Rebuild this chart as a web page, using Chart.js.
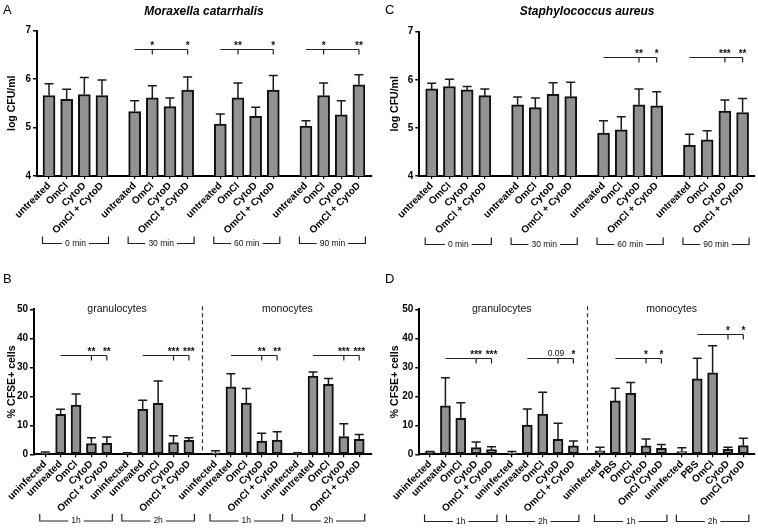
<!DOCTYPE html>
<html>
<head>
<meta charset="utf-8">
<script src="https://cdn.jsdelivr.net/npm/chart.js@4.4.1/dist/chart.umd.min.js"></script>
<style>
html, body { margin: 0; padding: 0; background: #fff; }
#wrap { position: relative; width: 758px; height: 530px; }
canvas { position: absolute; }
</style>
</head>
<body>
<div id="wrap">
  <canvas id="chartA" width="380" height="265" style="left:0;top:0"></canvas>
  <canvas id="chartC" width="376" height="265" style="left:382px;top:0"></canvas>
  <canvas id="chartB" width="380" height="265" style="left:0;top:265px"></canvas>
  <canvas id="chartD" width="376" height="265" style="left:382px;top:265px"></canvas>
</div>
<script>
// Values (mean and upper error)
const cfuTreatments = ['untreated', 'OmCl', 'CytoD', 'OmCl + CytoD'];
const cfuTimes = ['0 min', '30 min', '60 min', '90 min'];
const cfuTicks = [4, 5, 6, 7];

const moraxMean = [5.66, 5.58, 5.68, 5.66, 5.33, 5.61, 5.43, 5.77, 5.07, 5.61, 5.23, 5.77, 5.03, 5.66, 5.26, 5.88];
const moraxErr  = [0.24, 0.21, 0.35, 0.32, 0.22, 0.25, 0.18, 0.27, 0.21, 0.31, 0.19, 0.30, 0.11, 0.26, 0.29, 0.21];
const staphMean = [5.81, 5.86, 5.79, 5.67, 5.48, 5.42, 5.70, 5.65, 4.89, 4.96, 5.48, 5.46, 4.64, 4.75, 5.35, 5.32];
const staphErr  = [0.12, 0.15, 0.07, 0.14, 0.16, 0.20, 0.24, 0.30, 0.26, 0.27, 0.33, 0.29, 0.23, 0.19, 0.23, 0.29];

const cellTreatments = ['uninfected', 'untreated', 'OmCl', 'CytoD', 'OmCl + CytoD'];
const cellTreatmentsPBS = ['uninfected', 'PBS', 'OmCl', 'CytoD', 'OmCl CytoD'];
const cellTimes = ['1h', '2h', '1h', '2h'];
const cellTypes = ['granulocytes', 'monocytes'];
const cellTicks = [0, 10, 20, 30, 40, 50];

const moraxCellMean = [0.4, 13.8, 17.0, 3.7, 3.8, 0.3, 15.5, 17.6, 4.0, 4.8, 0.5, 23.3, 17.7, 4.6, 4.9, 0.3, 27.0, 24.1, 6.1, 5.2];
const moraxCellErr  = [0.4, 1.7, 3.8, 2.0, 2.2, 0.2, 3.1, 7.7, 2.4, 0.9, 0.7, 4.5, 5.0, 2.7, 2.9, 0.2, 1.4, 2.0, 4.4, 1.6];
const staphCellMean = [0.7, 16.7, 12.4, 2.3, 1.6, 0.4, 10.1, 13.9, 5.2, 2.9, 1.2, 18.4, 21.0, 2.9, 2.1, 0.9, 26.0, 28.1, 1.7, 3.0];
const staphCellErr  = [0.3, 9.7, 5.4, 1.9, 1.0, 0.6, 5.5, 7.5, 5.5, 1.7, 1.2, 4.4, 3.8, 2.4, 1.3, 1.4, 7.1, 9.3, 0.7, 2.5];

// significance brackets: group, first bar, marked bars, bracket level (data units), marks
const moraxSig = [
  { group: 1, from: 0, ticks: [1, 3], level: 6.61, marks: ['*', '*'] },
  { group: 2, from: 0, ticks: [1, 3], level: 6.61, marks: ['**', '*'] },
  { group: 3, from: 0, ticks: [1, 3], level: 6.61, marks: ['*', '**'] }
];
const staphSig = [
  { group: 2, from: 0, ticks: [2, 3], level: 6.47, marks: ['**', '*'] },
  { group: 3, from: 0, ticks: [2, 3], level: 6.47, marks: ['***', '**'] }
];
const moraxCellSig = [
  { group: 0, from: 1, ticks: [3, 4], level: 34.1, marks: ['**', '**'] },
  { group: 1, from: 1, ticks: [3, 4], level: 34.1, marks: ['***', '***'] },
  { group: 2, from: 1, ticks: [3, 4], level: 34.1, marks: ['**', '**'] },
  { group: 3, from: 1, ticks: [3, 4], level: 34.1, marks: ['***', '***'] }
];
const staphCellSig = [
  { group: 0, from: 1, ticks: [3, 4], level: 33.2, marks: ['***', '***'] },
  { group: 1, from: 1, ticks: [3, 4], level: 33.2, marks: ['0.09', '*'] },
  { group: 2, from: 1, ticks: [3, 4], level: 33.2, marks: ['*', '*'] },
  { group: 3, from: 1, ticks: [3, 4], level: 41.4, marks: ['*', '*'] }
];

const FONT = '"Liberation Sans", Arial, sans-serif';
Chart.defaults.font.family = FONT;
Chart.defaults.color = '#000';

// x position of each bar: index plus spacing between groups
function barPositions(n, per, gap, splitAt, splitGap) {
  const out = [];
  for (let i = 0; i < n; i++) {
    const g = Math.floor(i / per);
    out.push(i + g * gap + (g >= splitAt ? splitGap : 0));
  }
  return out;
}

function decoPlugin(p, pos) {
  return {
    id: 'deco',
    afterDatasetsDraw(chart) {
      const ctx = chart.ctx, ys = chart.scales.y;
      const bars = chart.getDatasetMeta(0).data;
      ctx.save();
      ctx.strokeStyle = '#1a1a1a';
      ctx.lineWidth = 1.5;
      bars.forEach((bar, i) => {
        const top = ys.getPixelForValue(p.means[i] + p.errs[i]);
        ctx.beginPath();
        ctx.moveTo(bar.x, bar.y);
        ctx.lineTo(bar.x, top);
        ctx.moveTo(bar.x - 4.5, top);
        ctx.lineTo(bar.x + 4.5, top);
        ctx.stroke();
      });
      ctx.restore();
    },
    afterDraw(chart) {
      const ctx = chart.ctx, xs = chart.scales.x, ys = chart.scales.y, area = chart.chartArea;
      const px = i => xs.getPixelForValue(pos[i]);
      const per = p.per;
      ctx.save();

      // panel letter
      ctx.fillStyle = '#000';
      ctx.font = '13px ' + FONT;
      ctx.textBaseline = 'top';
      ctx.textAlign = 'left';
      ctx.fillText(p.letter, 3, p.letterY);

      // title
      if (p.title) {
        ctx.font = 'italic bold 12px ' + FONT;
        ctx.textAlign = 'center';
        ctx.textBaseline = 'middle';
        ctx.fillText(p.title, (px(0) + px(pos.length - 1)) / 2, 12);
      }

      // y title
      ctx.save();
      ctx.translate(p.yTitleX, (area.top + area.bottom) / 2);
      ctx.rotate(-Math.PI / 2);
      ctx.font = 'bold 10.5px ' + FONT;
      ctx.textAlign = 'center';
      ctx.textBaseline = 'middle';
      ctx.fillText(p.yTitle, 0, 0);
      ctx.restore();

      // cell types and dashed divider
      if (p.sections) {
        const half = pos.length / 2;
        ctx.font = '10.5px ' + FONT;
        ctx.textAlign = 'center';
        ctx.textBaseline = 'middle';
        ctx.fillStyle = '#111';
        ctx.fillText(p.sections[0], (px(0) + px(half - 1)) / 2, area.top);
        ctx.fillText(p.sections[1], (px(half) + px(pos.length - 1)) / 2, area.top);
        const xd = Math.round((px(half - 1) + px(half)) / 2) + 0.5;
        ctx.strokeStyle = '#333';
        ctx.lineWidth = 1.2;
        ctx.setLineDash([4, 3]);
        ctx.beginPath();
        ctx.moveTo(xd, area.top - 3);
        ctx.lineTo(xd, area.bottom);
        ctx.stroke();
        ctx.setLineDash([]);
      }

      // significance brackets
      ctx.strokeStyle = '#222';
      ctx.lineWidth = 1.2;
      ctx.fillStyle = '#111';
      p.sig.forEach(s => {
        const base = s.group * per;
        const y = Math.round(ys.getPixelForValue(s.level)) + 0.5;
        const x1 = px(base + s.from);
        const xEnd = px(base + s.ticks[s.ticks.length - 1]);
        ctx.beginPath();
        ctx.moveTo(x1, y);
        ctx.lineTo(xEnd, y);
        s.ticks.forEach(t => {
          ctx.moveTo(px(base + t), y);
          ctx.lineTo(px(base + t), y + 5);
        });
        ctx.stroke();
        s.ticks.forEach((t, k) => {
          const m = s.marks[k];
          ctx.textAlign = 'center';
          if (m.indexOf('*') >= 0) {
            ctx.font = 'bold 10px ' + FONT;
            ctx.textBaseline = 'alphabetic';
            ctx.fillText(m, px(base + t), y - 0.5);
          } else {
            ctx.font = '8.5px ' + FONT;
            ctx.textBaseline = 'alphabetic';
            ctx.fillText(m, px(base + t) - 2, y - 3);
          }
        });
      });

      // time brackets below the axis
      ctx.font = '8.5px ' + FONT;
      ctx.textBaseline = 'middle';
      ctx.textAlign = 'center';
      ctx.strokeStyle = '#222';
      p.groups.forEach((label, g) => {
        const x1 = px(g * per) - p.bracketPad;
        const x2 = px(g * per + per - 1) + p.bracketPad;
        const y = p.bracketY + 0.5;
        const cx = (x1 + x2) / 2;
        const w = ctx.measureText(label).width / 2 + 3;
        ctx.beginPath();
        ctx.moveTo(x1, y - 7);
        ctx.lineTo(x1, y);
        ctx.lineTo(cx - w, y);
        ctx.moveTo(cx + w, y);
        ctx.lineTo(x2, y);
        ctx.lineTo(x2, y - 7);
        ctx.stroke();
        ctx.fillText(label, cx, y);
      });
      ctx.restore();
    }
  };
}

function buildPanel(id, p) {
  const pos = barPositions(p.means.length, p.per, p.gap, p.splitAt, p.splitGap);
  new Chart(document.getElementById(id), {
    type: 'bar',
    data: {
      datasets: [{
        data: p.means.map((m, i) => ({ x: pos[i], y: m })),
        backgroundColor: '#929292',
        borderColor: '#111',
        borderWidth: 2,
        borderSkipped: false,
        barThickness: p.barWidth
      }]
    },
    options: {
      responsive: false,
      animation: false,
      layout: { padding: p.padding },
      plugins: { legend: { display: false }, tooltip: { enabled: false } },
      scales: {
        x: {
          type: 'linear',
          offset: false,
          min: pos[0] - p.xPad[0],
          max: pos[pos.length - 1] + p.xPad[1],
          afterBuildTicks: s => { s.ticks = pos.map(v => ({ value: v })); },
          afterFit: s => { s.height = 60; },
          ticks: {
            autoSkip: false, minRotation: 45, maxRotation: 45, padding: 1,
            callback: (v, i) => p.labels[i],
            font: { size: 10, weight: 'bold' }
          },
          grid: { offset: false, drawOnChartArea: false, tickLength: 3, color: '#000', lineWidth: 1.2 },
          border: { color: '#000', width: 2 }
        },
        y: {
          min: p.yTicks[0],
          max: p.yTicks[p.yTicks.length - 1],
          afterBuildTicks: s => { s.ticks = p.yTicks.map(v => ({ value: v })); },
          afterFit: s => { s.width = p.yWidth; },
          ticks: { padding: 2, font: { size: 10, weight: 'bold' } },
          grid: { drawOnChartArea: false, tickLength: 4, color: '#000', lineWidth: 1.5 },
          border: { color: '#000', width: 2 }
        }
      }
    },
    plugins: [decoPlugin(p, pos)]
  });
}

const cfuLabels = cfuTimes.flatMap(() => cfuTreatments);

buildPanel('chartA', {
  letter: 'A', letterY: 4, title: 'Moraxella catarrhalis', yTitle: 'log CFU/ml', yTitleX: 12,
  labels: cfuLabels, means: moraxMean, errs: moraxErr, yTicks: cfuTicks,
  groups: cfuTimes, sig: moraxSig,
  per: 4, gap: 0.85, splitAt: 99, splitGap: 0, barWidth: 12, xPad: [0.68, 0.74],
  padding: { left: 0, top: 30.5, right: 8, bottom: 29 }, yWidth: 37,
  bracketY: 243, bracketPad: 6.5
});

buildPanel('chartC', {
  letter: 'C', letterY: 4, title: 'Staphylococcus aureus', yTitle: 'log CFU/ml', yTitleX: 13,
  labels: cfuLabels, means: staphMean, errs: staphErr, yTicks: cfuTicks,
  groups: cfuTimes, sig: staphSig,
  per: 4, gap: 0.85, splitAt: 99, splitGap: 0, barWidth: 12, xPad: [0.70, 0.70],
  padding: { left: 0, top: 31.7, right: 3, bottom: 29 }, yWidth: 37.3,
  bracketY: 244, bracketPad: 6.5
});

buildPanel('chartB', {
  letter: 'B', letterY: 8, yTitle: '% CFSE+ cells', yTitleX: 12,
  labels: cellTimes.flatMap(() => cellTreatments), means: moraxCellMean, errs: moraxCellErr, yTicks: cellTicks,
  groups: cellTimes, sig: moraxCellSig, sections: cellTypes,
  per: 5, gap: 0.33, splitAt: 2, splitGap: 0.4, barWidth: 10, xPad: [0.73, 0.83],
  padding: { left: 0, top: 44.3, right: 8, bottom: 15.7 }, yWidth: 34,
  bracketY: 255.5, bracketPad: 5.5
});

buildPanel('chartD', {
  letter: 'D', letterY: 8, yTitle: '% CFSE+ cells', yTitleX: 13,
  labels: [...cellTreatments, ...cellTreatments, ...cellTreatmentsPBS, ...cellTreatmentsPBS],
  means: staphCellMean, errs: staphCellErr, yTicks: cellTicks,
  groups: cellTimes, sig: staphCellSig, sections: cellTypes,
  per: 5, gap: 0.33, splitAt: 2, splitGap: 0.4, barWidth: 10, xPad: [0.70, 0.76],
  padding: { left: 0, top: 44.3, right: 3, bottom: 15.7 }, yWidth: 37.3,
  bracketY: 256, bracketPad: 5.5
});
</script>
</body>
</html>
